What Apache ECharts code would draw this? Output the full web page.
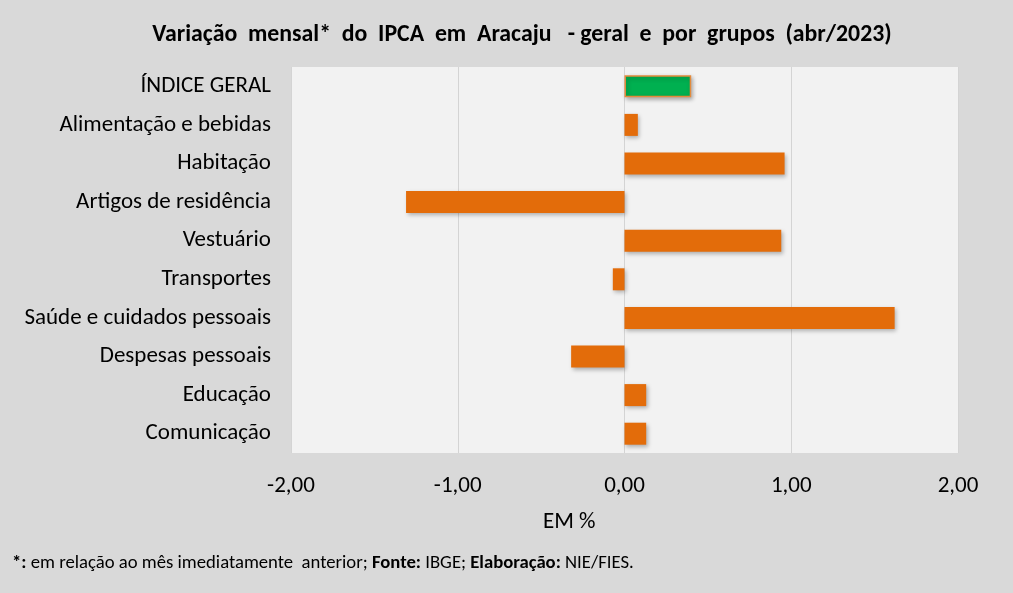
<!DOCTYPE html>
<html lang="pt-BR">
<head>
    <meta charset="UTF-8">
    <title>IPCA Aracaju</title>
    <script src="https://cdn.jsdelivr.net/npm/echarts@6.0.0/dist/echarts.min.js"></script>
    <style>
        html, body { margin: 0; padding: 0; background: #d9d9d9; }
    </style>
</head>
<body>
<div id="chart" style="width: 1013px;height:593px;"></div>
</body>
<script>
    var grupos = [
        'ÍNDICE GERAL',
        'Alimentação e bebidas',
        'Habitação',
        'Artigos de residência',
        'Vestuário',
        'Transportes',
        'Saúde e cuidados pessoais',
        'Despesas pessoais',
        'Educação',
        'Comunicação'
    ];
    var variacao = [0.40, 0.08, 0.96, -1.31, 0.94, -0.07, 1.62, -0.32, 0.13, 0.13];
    var ticks = [-2, -1, 0, 1, 2];

    var font = "'Carlito', 'Liberation Sans Narrow', 'Open Sans', sans-serif";

    echarts.init(document.getElementById('chart')).setOption({
        backgroundColor: '#d9d9d9',
        animation: false,
        title: {
            text: 'Variação  mensal*  do  IPCA  em  Aracaju   - geral  e  por  grupos  (abr/2023)',
            left: 517,
            textAlign: 'center',
            top: 18,
            textStyle: {
                fontFamily: font,
                fontSize: 23.8,
                fontWeight: 'bold',
                color: '#000'
            }
        },
        grid: {
            left: 291,
            right: 55,
            top: 67,
            bottom: 140,
            show: true,
            backgroundColor: '#f2f2f2',
            borderWidth: 0
        },
        xAxis: {
            type: 'value',
            min: ticks[0],
            max: ticks[ticks.length - 1],
            interval: 1,
            axisLine: { show: false },
            axisTick: { show: false },
            splitLine: { lineStyle: { color: '#d4d4d4', width: 1 } },
            axisLabel: {
                margin: 22,
                fontFamily: font,
                fontSize: 23,
                color: '#000',
                formatter: function (v) {
                    return v.toFixed(2).replace('.', ',');
                }
            }
        },
        yAxis: {
            type: 'category',
            inverse: true,
            data: grupos,
            axisLine: { show: false },
            axisTick: { show: false },
            axisLabel: {
                margin: 20,
                fontFamily: font,
                fontSize: 23,
                color: '#000'
            }
        },
        graphic: [
            {
                type: 'text',
                left: 543,
                top: 511,
                style: {
                    text: 'EM %',
                    fontFamily: font,
                    fontSize: 23,
                    fill: '#000'
                }
            },
            {
                type: 'text',
                left: 12,
                top: 554,
                style: {
                    text: '{b|*:} em relação ao mês imediatamente  anterior; {b|Fonte:} IBGE; {b|Elaboração:} NIE/FIES.',
                    fontFamily: font,
                    fontSize: 18.7,
                    fill: '#000',
                    rich: {
                        b: { fontFamily: font, fontSize: 18.7, fontWeight: 'bold', fill: '#000' }
                    }
                }
            }
        ],
        series: [
            {
                type: 'bar',
                barWidth: 22,
                data: variacao.map(function (v, i) {
                    return {
                        value: v,
                        itemStyle: i === 0
                            ? { color: '#00b050', borderColor: '#e38a3c', borderWidth: 1.5 }
                            : { color: '#e36c0a', borderWidth: 0 }
                    };
                }),
                itemStyle: {
                    shadowColor: 'rgba(0,0,0,0.28)',
                    shadowBlur: 4,
                    shadowOffsetX: 1.5,
                    shadowOffsetY: 2
                }
            }
        ]
    });
</script>
</html>
